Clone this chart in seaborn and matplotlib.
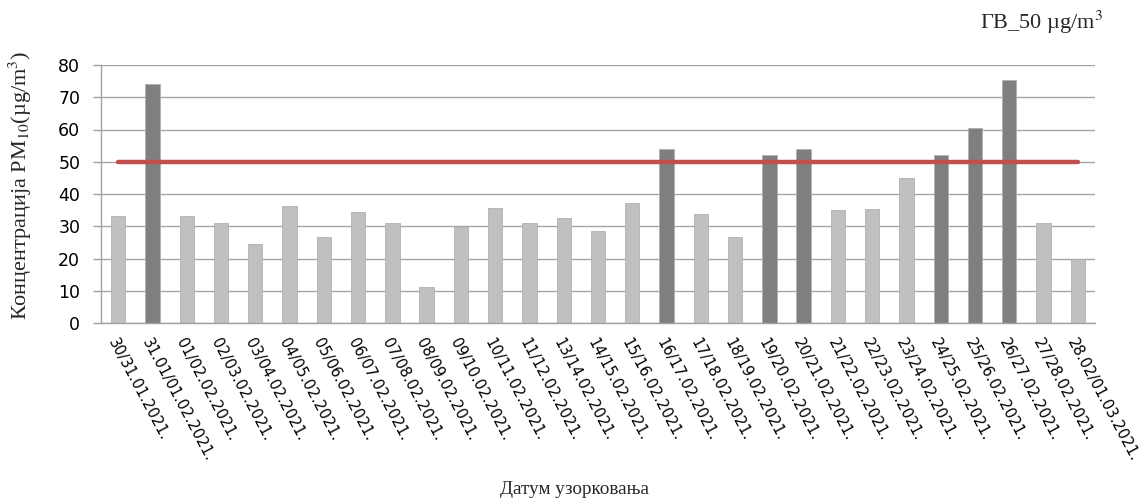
import matplotlib
matplotlib.use("Agg")
import matplotlib.pyplot as plt
import seaborn as sns
import pandas as pd

dates = ["30/31.01.2021.", "31.01/01.02.2021.", "01/02.02.2021.", "02/03.02.2021.",
         "03/04.02.2021.", "04/05.02.2021.", "05/06.02.2021.", "06/07.02.2021.",
         "07/08.02.2021.", "08/09.02.2021.", "09/10.02.2021.", "10/11.02.2021.",
         "11/12.02.2021.", "13/14.02.2021.", "14/15.02.2021.", "15/16.02.2021.",
         "16/17.02.2021.", "17/18.02.2021.", "18/19.02.2021.", "19/20.02.2021.",
         "20/21.02.2021.", "21/22.02.2021.", "22/23.02.2021.", "23/24.02.2021.",
         "24/25.02.2021.", "25/26.02.2021.", "26/27.02.2021.", "27/28.02.2021.",
         "28.02/01.03.2021."]
pm10 = [33.1, 74.0, 33.1, 31.1, 24.4, 36.4, 26.8, 34.4, 31.1, 11.2,
        29.9, 35.6, 31.1, 32.7, 28.4, 37.2, 53.8, 33.7, 26.8, 52.2,
        53.8, 34.9, 35.3, 45.1, 52.2, 60.5, 75.2, 31.1, 19.9]
limit = 50

sns.set_theme(style="white")
plt.rcParams['font.family'] = ['DejaVu Sans']
plt.rcParams['mathtext.fontset'] = 'stix'

df = pd.DataFrame({"date": dates, "pm10": pm10})
df["over"] = ["over" if v > limit else "under" for v in pm10]

fig = plt.figure(figsize=(11.42, 5.0), dpi=100)
ax = fig.add_axes([0.0885, 0.354, 0.8703, 0.516])

sns.barplot(data=df, x="date", y="pm10", hue="over", dodge=False,
            palette={"over": "#7F7F7F", "under": "#C0C0C0"},
            width=0.42, legend=False, ax=ax, edgecolor="#B0B0B0", linewidth=0.6,
            zorder=2)

ax.plot([0, len(dates) - 1], [limit, limit], color="#C0504D", linewidth=3.2,
        solid_capstyle="round", zorder=3)

ax.set_ylim(0, 80)
ax.set_yticks(range(0, 81, 10))
ax.set_xlim(-0.5, len(dates) - 0.5)
ax.yaxis.grid(True, color="#A6A6A6", linewidth=1.0, zorder=0)
ax.set_axisbelow(True)
for s in ["top", "right"]:
    ax.spines[s].set_visible(False)
for s in ["left", "bottom"]:
    ax.spines[s].set_color("#A0A0A0")
    ax.spines[s].set_linewidth(1.0)

ax.tick_params(axis="y", which="major", left=True, length=6, width=1.0, color="#A0A0A0",
               labelsize=12.5, pad=9, labelcolor="black")
ax.tick_params(axis="x", which="major", bottom=False, length=0,
               labelsize=10.6, labelcolor="black", pad=9)
ax.set_xticks(range(len(dates)))
ax.set_xticklabels(dates, rotation=-62, ha="left", va="top", rotation_mode="anchor")

ax.set_xlabel("")
ax.set_ylabel("")
fig.text(0.503, 0.02, "Датум узорковања", ha="center", va="center",
         fontsize=13.8, family=["Liberation Serif", "DejaVu Serif"])
fig.text(0.018, 0.63, "Концентрација PM$_{10}$(µg/m$^3$)", ha="center", va="center",
         rotation=90, fontsize=16, family=["Liberation Serif", "DejaVu Serif"])
fig.text(0.912, 0.955, "ГВ_50 µg/m$^3$", ha="center", va="center",
         fontsize=16, family=["Liberation Serif", "DejaVu Serif"])

fig.savefig("out.png", dpi=100)
